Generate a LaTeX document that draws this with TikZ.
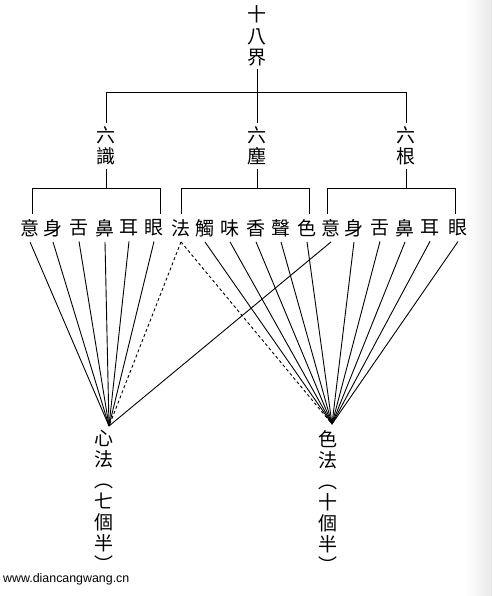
\documentclass[tikz,border=0pt]{standalone}
\usepackage{fontspec}
\newfontfamily\cjk{Noto Sans CJK TC}
\newfontfamily\wmfont{Liberation Sans}
\begin{document}
\begin{tikzpicture}[x=1pt,y=-1pt,
  cjkt/.style={font=\cjk\fontsize{19}{21.5}\selectfont, align=center, inner sep=3pt},
  colt/.style={font=\cjk\fontsize{19}{21}\selectfont, align=center, inner sep=0pt},
  rowc/.style={font=\cjk\fontsize{19}{21.5}\selectfont, inner sep=5pt},
  conn/.style={line width=0.9pt, black},
  half/.style={conn, dash pattern=on 3pt off 2.5pt}]
\useasboundingbox (0,0) rectangle (492,596);
\shade[left color=white, right color=black!9] (466,0) rectangle (492,596);
% top
\node[cjkt] (top) at (257,36) {十\\八\\界};
\node[cjkt] (ls) at (106,146) {六\\識};
\node[cjkt] (lc) at (257,146) {六\\塵};
\node[cjkt] (lg) at (406,146) {六\\根};
\coordinate (hy) at (0,92);
\coordinate (by) at (0,188);
\draw[conn] (top.south) -- (lc.north);
\draw[conn] (ls.north) |- (lg.north |- hy) -- (lg.north);
% row
\foreach \t/\x [count=\i from 0] in {意/30,身/53,舌/79,鼻/105,耳/129,眼/154,法/181,觸/205,味/230,香/256,聲/281,色/307,意/331,身/354,舌/380,鼻/405,耳/430,眼/458}
  \node[rowc] (r\i) at (\x,228) {\t};
% brackets
\coordinate (b0) at ([xshift=2pt]r0.north);
\coordinate (b5) at ([xshift=6pt]r5.north);
\coordinate (b6) at (r6.north);
\coordinate (b11) at ([xshift=2pt]r11.north);
\coordinate (b12) at ([xshift=-4pt]r12.north);
\coordinate (b17) at ([xshift=-3pt]r17.north);
\draw[conn] (ls.south) -- (ls.south |- by);
\draw[conn] (lc.south) -- (lc.south |- by);
\draw[conn] (lg.south) -- (lg.south |- by);
\draw[conn] (b0) |- (b5 |- by) -- (b5);
\draw[conn] (b6) |- (b11 |- by) -- (b11);
\draw[conn] (b12) |- (b17 |- by) -- (b17);
% apexes
\coordinate (apexL) at (109,426);
\coordinate (apexR) at (332,424);
\foreach \i in {0,...,5} \draw[conn] (r\i.south) -- (apexL);
\draw[half] (r6.south) -- (apexL);
\draw[half] (r6.south) -- (apexR);
\foreach \i in {7,...,11} \draw[conn] (r\i.south) -- (apexR);
\draw[conn] (r12.south) -- (apexL);
\foreach \i in {13,...,17} \draw[conn] (r\i.south) -- (apexR);
% bottom labels
\node[colt] (xf) at (104,501) {心\\法\\︵\\七\\個\\半\\︶};
\node[colt] (sf) at (328,501) {色\\法\\︵\\十\\個\\半\\︶};
% watermark
\node[font=\wmfont\fontsize{12.4}{14}\selectfont, anchor=base west, inner sep=0pt] (wm) at (3,582) {www.diancangwang.cn};
\end{tikzpicture}
\end{document}
